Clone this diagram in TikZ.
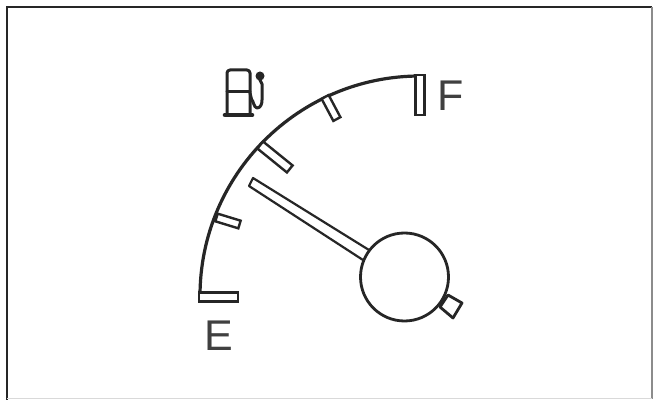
\documentclass[tikz,border=0pt]{standalone}
\usepackage{fontspec}
\setmainfont{Liberation Sans}
\usetikzlibrary{positioning}

\begin{document}
\begin{tikzpicture}[
  x=1pt, y=-1pt,
  frameline/.style={line width=1.8pt, draw=black!85},
  tickbox/.style={rectangle, draw=black!85, fill=white, line width=2.4pt, inner sep=0pt},
  hub/.style={circle, draw=black!85, fill=white, line width=2.8pt, minimum size=88pt, inner sep=0pt},
  gaugeline/.style={draw=black!85, line width=2.4pt, line join=round},
  iconline/.style={draw=black!85, line width=3pt, line cap=round, line join=round},
  label/.style={font=\fontsize{43}{43}\selectfont, text=black!75, inner sep=0pt}
]
\useasboundingbox (0,0) rectangle (654,403);
\fill[white] (0,0) rectangle (654,403);
\draw[frameline] (7,400) -- (7,7) -- (652,7);
\draw[draw=black!45, line width=1.2pt] (652,7) -- (652,399);
\draw[draw=black!15, line width=1pt] (7,399) -- (652,399);

\draw[gaugeline, line width=3.2pt] (200,296) arc[start angle=180, end angle=270, radius=220];
\node[tickbox, minimum width=39pt, minimum height=9pt] (tickE) at (218.5,297) {};
\node[tickbox, minimum width=24pt, minimum height=8pt, rotate=-17] (tickA) at (228,221) {};
\node[tickbox, minimum width=38pt, minimum height=9pt, rotate=-39] (tickB) at (275,157) {};
\node[tickbox, minimum width=25pt, minimum height=8pt, rotate=-62] (tickC) at (331,108) {};
\node[tickbox, minimum width=9pt, minimum height=40pt] (tickF) at (420,95) {};

\node[label] (labelE) at (219,336) {E};
\node[label] (labelF) at (451,96) {F};

\draw[gaugeline, fill=white, line width=2.2pt] (369,250) -- (253,178) -- (249,186) -- (363,260);
\draw[gaugeline, fill=white, line width=2.8pt] (440,307) -- (448,295) -- (462,303) -- (453,318) -- cycle;
\node[hub] (dial) at (404.5,277) {};

\draw[iconline, rounded corners=3pt] (227,113) -- (227,70) -- (250,70) -- (250,113);
\draw[iconline] (227,92) -- (250,92);
\draw[iconline, line width=4.6pt] (225,115) -- (252,115);
\draw[iconline] (250,93) -- (252,101) to[out=80, in=180] (257,108) to[out=0, in=-90] (262,100) -- (262,84) -- (258,76);
\fill[black!85] (260,76) circle[radius=4.5pt];
\end{tikzpicture}
\end{document}
